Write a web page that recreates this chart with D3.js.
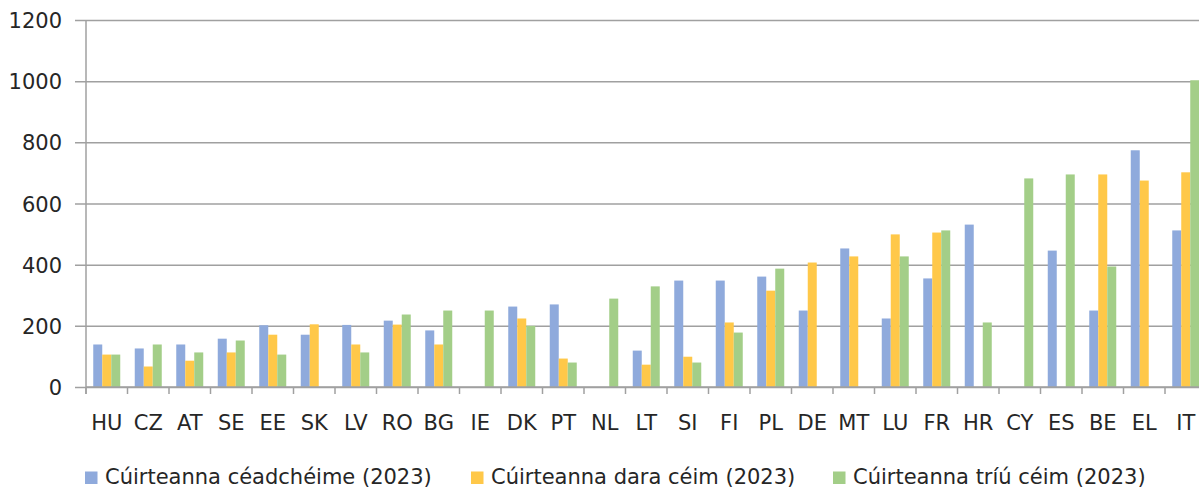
<!DOCTYPE html>
<html>
<head>
<meta charset="utf-8">
<script src="https://cdn.jsdelivr.net/npm/d3@7"></script>
<style>
  html, body { margin: 0; padding: 0; background: #fff; }
  svg { display: block; overflow: hidden; }
  text { font-family: "DejaVu Sans", sans-serif; fill: #262626; }
</style>
</head>
<body>
<svg id="chart" width="1199" height="488"></svg>
<script>
const categories = ["HU","CZ","AT","SE","EE","SK","LV","RO","BG","IE","DK","PT","NL","LT","SI","FI","PL","DE","MT","LU","FR","HR","CY","ES","BE","EL","IT"];
const seriesNames = ["Cúirteanna céadchéime (2023)", "Cúirteanna dara céim (2023)", "Cúirteanna tríú céim (2023)"];
const firstInstance = [139,126,139,158,202,171,203,217,185,null,263,270,null,119,348,348,361,250,453,224,355,531,null,446,250,774,512];
const secondInstance = [106,67,86,113,171,205,139,204,139,null,224,93,null,73,99,211,315,407,427,499,505,null,null,null,695,675,702];
const thirdInstance = [106,139,113,152,106,null,113,237,250,250,200,80,289,329,80,178,387,null,null,427,512,211,682,695,394,null,1003];
const yTicks = [0,200,400,600,800,1000,1200];
const colors = ["#8FAADC", "#FFC849", "#A3CE88"];

const svg = d3.select("#chart");
const margin = {left: 86, top: 20, bottom: 387};
const bandW = 41.5;
const right = margin.left + bandW * categories.length;

const x0 = d3.scaleBand().domain(categories).range([margin.left, right]).padding(0);
const barW = 9;
const groupW = barW * 3;
const x1 = d3.scaleBand().domain([0,1,2])
  .range([(x0.bandwidth() - groupW) / 2, (x0.bandwidth() + groupW) / 2]).padding(0);
const y = d3.scaleLinear().domain([0, 1200]).range([margin.bottom, margin.top]);

// gridlines + y axis
const yAxis = d3.axisLeft(y).tickValues(yTicks).tickSize(-(right - margin.left)).tickPadding(0).tickFormat(d3.format("d"));
const gy = svg.append("g").attr("transform", `translate(${margin.left},0)`).call(yAxis);
gy.select(".domain").remove();
gy.selectAll(".tick line").attr("stroke", "#a0a0a0").attr("stroke-width", 1.5).attr("x1", -11);
gy.selectAll(".tick text").attr("x", -24).attr("dy", "0.36em")
  .style("font-size", "21px").style("font-family", "DejaVu Sans").attr("fill", "#262626");

// bars
const series = [firstInstance, secondInstance, thirdInstance];
const rows = categories.map((c, i) => ({c, vals: series.map(s => s[i])}));
const groups = svg.append("g").selectAll("g").data(rows).join("g")
  .attr("transform", d => `translate(${x0(d.c)},0)`);
groups.selectAll("rect").data(d => d.vals.map((v, k) => ({v, k})).filter(e => e.v != null)).join("rect")
  .attr("x", e => x1(e.k))
  .attr("width", x1.bandwidth())
  .attr("y", e => y(e.v))
  .attr("height", e => y(0) - y(e.v))
  .attr("fill", e => colors[e.k]);

// vertical axis line
svg.append("line").attr("x1", margin.left).attr("x2", margin.left)
  .attr("y1", margin.top).attr("y2", margin.bottom + 7)
  .attr("stroke", "#a0a0a0").attr("stroke-width", 1.5);

// x axis
const xAxis = d3.axisBottom(x0).tickSize(0).tickPadding(0);
const gx = svg.append("g").attr("transform", `translate(0,${margin.bottom})`).call(xAxis);
gx.select(".domain").remove();
gx.selectAll(".tick text").attr("y", 43).attr("dy", 0)
  .style("font-size", "21px").style("font-family", "DejaVu Sans").attr("fill", "#262626");
// category boundary ticks
const bounds = d3.range(categories.length + 1).map(i => margin.left + i * x0.step());
svg.append("g").selectAll("line").data(bounds).join("line")
  .attr("x1", d => d).attr("x2", d => d).attr("y1", margin.bottom).attr("y2", margin.bottom + 7)
  .attr("stroke", "#a0a0a0").attr("stroke-width", 1.5);
svg.append("line").attr("x1", margin.left).attr("x2", right)
  .attr("y1", margin.bottom).attr("y2", margin.bottom)
  .attr("stroke", "#a0a0a0").attr("stroke-width", 1.5);

// legend
const legendX = [85, 471, 833];
const lg = svg.append("g");
seriesNames.forEach((name, k) => {
  lg.append("rect").attr("x", legendX[k]).attr("y", 471.5).attr("width", 12.5).attr("height", 12.5).attr("fill", colors[k]);
  lg.append("text").attr("x", legendX[k] + 20).attr("y", 484)
    .style("font-size", "21px").text(name);
});
</script>
</body>
</html>
